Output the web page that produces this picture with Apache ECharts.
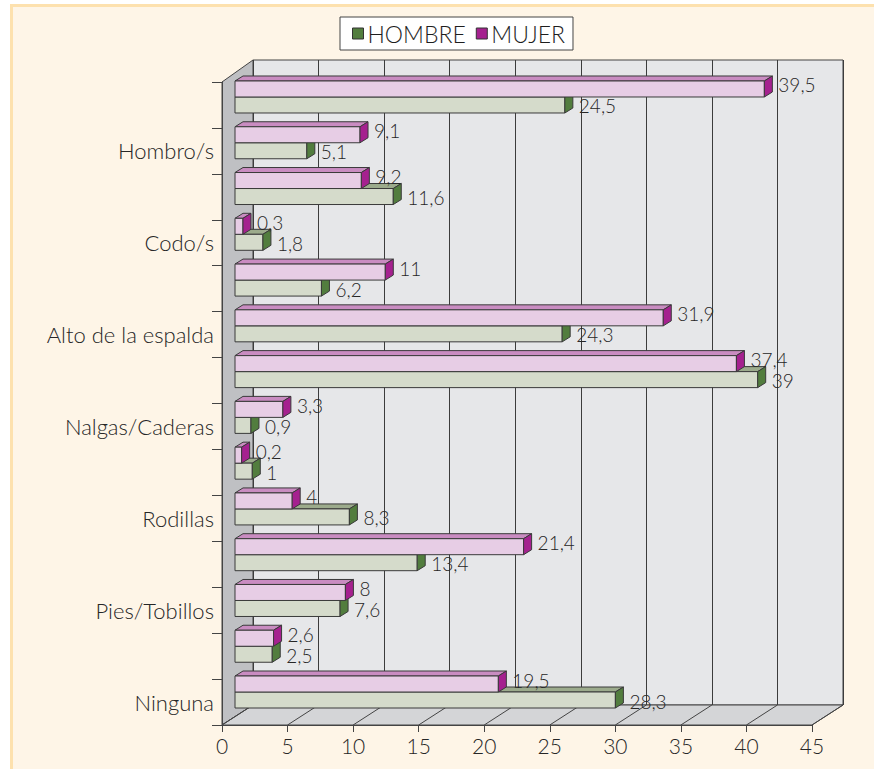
<!DOCTYPE html>
<html><head><meta charset="utf-8">
<script src="https://cdn.jsdelivr.net/npm/echarts@6/dist/echarts.min.js"></script>
<style>
html,body{margin:0;padding:0;background:#fff;overflow:hidden;width:874px;height:769px;}
#frame{position:absolute;left:10px;top:4px;right:0;bottom:0;background:#fef5e7;border-top:3px solid #fde1ae;border-left:3px solid #fde1ae;}
#chart{position:absolute;left:0;top:0;width:874px;height:769px;}
</style></head><body><div id="frame"></div><div id="chart"></div>
<script>
// ---- data ----
const categories = ['', 'Hombro/s', '', 'Codo/s', '', 'Alto de la espalda', '', 'Nalgas/Caderas', '', 'Rodillas', '', 'Pies/Tobillos', '', 'Ninguna'];
const mujer  = [39.5, 9.1, 9.2, 0.3, 11, 31.9, 37.4, 3.3, 0.2, 4, 21.4, 8, 2.6, 19.5];
const hombre = [24.5, 5.1, 11.6, 1.8, 6.2, 24.3, 39, 0.9, 1, 8.3, 13.4, 7.6, 2.5, 28.3];
const seriesNames = ['HOMBRE', 'MUJER'];
const xMin = 0, xMax = 45, xStep = 5;

// ---- layout / style ----
const FRONT = {x0: 222, x1: 812, yTop: 82, yBot: 725};
const DEPTH = {dx: 31, dy: -20};
const FONT = 'Lato, "Open Sans", sans-serif';
const TXT = '#262626';
const STY = {
  HOMBRE: {front: '#d5dbcb', top: '#9cab8c', cap: '#527d3e'},
  MUJER:  {front: '#e7cde5', top: '#c98cc1', cap: '#a5218f'}
};

function fmt(v){ return String(v).replace('.', ','); }

function makeRender(name, upper){
  const c = STY[name];
  return function(params, api){
    const v = api.value(0), i = api.value(1);
    const s = api.coord([-0.3, i]);
    const e = api.coord([v, i]);
    const h = 16, dx = 8, dy = 5;
    const yc = s[1];
    const y0 = upper ? yc - h : yc;
    const y1 = y0 + h;
    const xs = s[0], xe = e[0];
    const st = {stroke: '#3a3a3a', lineWidth: 1};
    return {type: 'group', children: [
      {type: 'polygon', shape: {points: [[xs, y0], [xs + dx, y0 - dy], [xe + dx, y0 - dy], [xe, y0]]},
        style: Object.assign({fill: c.top}, st)},
      {type: 'rect', shape: {x: xs, y: y0, width: xe - xs, height: h},
        style: Object.assign({fill: c.front}, st)},
      {type: 'polygon', shape: {points: [[xe, y0], [xe + dx, y0 - dy], [xe + dx, y1 - dy], [xe, y1]]},
        style: Object.assign({fill: c.cap}, st)},
      {type: 'text', x: xe + dx + 6, y: upper ? (y0 + h / 2 - 4) : (y0 + h / 2 + 1),
        style: {text: fmt(v), fill: TXT, fontSize: 19, fontFamily: FONT, fontWeight: 300, align: 'left', verticalAlign: 'middle'}}
    ]};
  };
}

// walls (decoration)
const graphics = [];
const ddx = DEPTH.dx, ddy = DEPTH.dy;
graphics.push({type: 'polygon', z: 0, shape: {points: [[FRONT.x0, FRONT.yTop], [FRONT.x0 + ddx, FRONT.yTop + ddy - 2], [FRONT.x0 + ddx, FRONT.yBot + ddy], [FRONT.x0, FRONT.yBot]]},
  style: {fill: '#bfc0c3', stroke: '#444', lineWidth: 1}});
graphics.push({type: 'polygon', z: 0, shape: {points: [[FRONT.x0, FRONT.yBot], [FRONT.x0 + ddx, FRONT.yBot + ddy], [FRONT.x1 + ddx, FRONT.yBot + ddy], [FRONT.x1, FRONT.yBot]]},
  style: {fill: '#d4d5d7', stroke: '#444', lineWidth: 1}});
for (let k = xMin; k <= xMax; k += xStep) {
  const x = FRONT.x0 + (FRONT.x1 - FRONT.x0) * (k - xMin) / (xMax - xMin);
  graphics.push({type: 'line', z: 0, shape: {x1: x, y1: FRONT.yBot, x2: x + ddx, y2: FRONT.yBot + ddy}, style: {stroke: '#444', lineWidth: 1}});
}

const chart = echarts.init(document.getElementById('chart'), null, {renderer: 'svg'});
chart.setOption({
  backgroundColor: 'transparent',
  animation: false,
  textStyle: {fontFamily: FONT},
  legend: {
    data: seriesNames.map(n => ({name: n, icon: 'rect'})),
    left: 340, top: 17,
    backgroundColor: '#fff', borderColor: '#444', borderWidth: 1,
    padding: [5, 8, 5, 12],
    itemWidth: 11, itemHeight: 11, itemGap: 10,
    itemStyle: {borderColor: '#333', borderWidth: 1},
    textStyle: {fontSize: 23, color: '#1e1e1e', fontFamily: FONT, fontWeight: 300, padding: [0, 0, 0, -1]}
  },
  graphic: {elements: graphics},
  grid: [
    {left: FRONT.x0 + ddx, top: FRONT.yTop + ddy - 2, width: FRONT.x1 - FRONT.x0, height: FRONT.yBot - FRONT.yTop + 2,
      show: true, backgroundColor: '#e6e7e9', borderColor: '#444', borderWidth: 1, z: 0},
    {left: FRONT.x0, top: FRONT.yTop, width: FRONT.x1 - FRONT.x0, height: FRONT.yBot - FRONT.yTop},
    {left: 235, top: 74.1, width: 602.5, height: 640.8}
  ],
  xAxis: [
    {gridIndex: 0, type: 'value', min: xMin, max: xMax, interval: xStep,
      axisLine: {show: false}, axisTick: {show: false}, axisLabel: {show: false},
      splitLine: {show: true, lineStyle: {color: '#3c3c3c', width: 1}}},
    {gridIndex: 1, type: 'value', min: xMin, max: xMax, interval: xStep, z: 3,
      axisLine: {show: true, lineStyle: {color: '#444'}},
      axisTick: {show: true, length: 7, lineStyle: {color: '#444'}},
      axisLabel: {fontSize: 21, color: TXT, margin: 10, fontFamily: FONT, fontWeight: 300},
      splitLine: {show: false}},
    {gridIndex: 2, type: 'value', min: -0.3, max: xMax, show: false}
  ],
  yAxis: [
    {gridIndex: 0, type: 'category', data: categories, show: false},
    {gridIndex: 1, type: 'category', data: categories, inverse: true, z: 3,
      axisLine: {show: true, lineStyle: {color: '#444'}},
      axisTick: {show: true, length: 10, interval: 0, lineStyle: {color: '#444'}},
      axisLabel: {interval: 0, fontSize: 22, color: TXT, margin: 8, fontFamily: FONT, fontWeight: 300}},
    {gridIndex: 2, type: 'category', data: categories, inverse: true, show: false}
  ],
  series: [
    {name: 'HOMBRE', type: 'custom', xAxisIndex: 2, yAxisIndex: 2, z: 5, clip: false,
      itemStyle: {color: STY.HOMBRE.cap},
      renderItem: makeRender('HOMBRE', false),
      encode: {x: 0, y: 1},
      data: hombre.map((v, i) => [v, i])},
    {name: 'MUJER', type: 'custom', xAxisIndex: 2, yAxisIndex: 2, z: 6, clip: false,
      itemStyle: {color: STY.MUJER.cap},
      renderItem: makeRender('MUJER', true),
      encode: {x: 0, y: 1},
      data: mujer.map((v, i) => [v, i])}
  ]
});
</script></body></html>
